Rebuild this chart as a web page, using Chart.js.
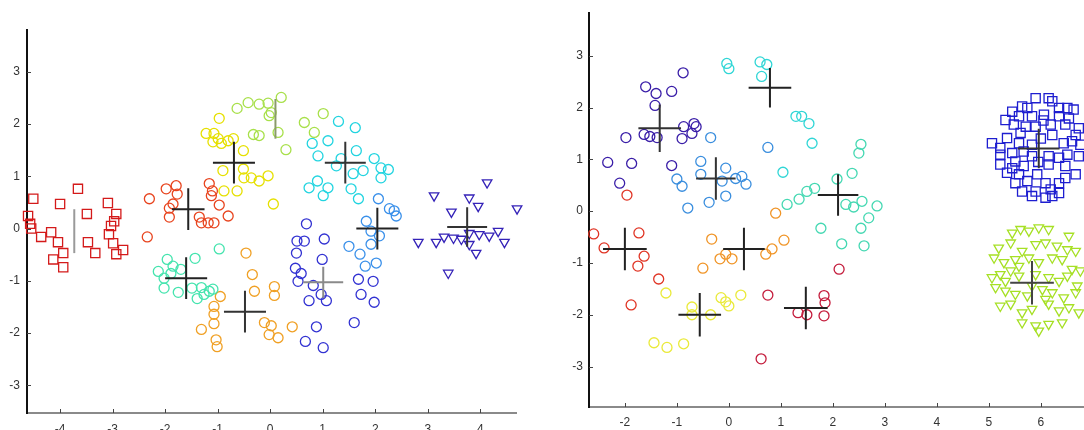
<!DOCTYPE html>
<html>
<head>
<meta charset="utf-8">
<script src="https://cdn.jsdelivr.net/npm/chart.js@4.4.1/dist/chart.umd.min.js"></script>
<style>
  html, body { margin: 0; padding: 0; background: #fff; overflow: hidden; width: 1084px; height: 430px; }
  #divChartLeft { position: absolute; left: 0; top: 0; width: 540px; height: 430px; }
  #divChartRight { position: absolute; left: 560px; top: 0; width: 524px; height: 430px; }
</style>
</head>
<body>
<div id="divChartLeft"><canvas id="chartLeft" width="540" height="430"></canvas></div>
<div id="divChartRight"><canvas id="chartRight" width="524" height="430"></canvas></div>
<script>
// ---- left panel data ----
var leftXTicks = [-4, -3, -2, -1, 0, 1, 2, 3, 4];
var leftYTicks = [-3, -2, -1, 0, 1, 2, 3];

var leftRedSquares = [[-4.51,0.57],[-3.66,0.76],[-4.0,0.47],[-3.49,0.28],[-3.09,0.49],[-2.93,0.28],[-4.61,0.24],[-4.57,0.09],
    [-4.55,0.0],[-4.36,-0.16],[-4.17,-0.07],[-4.04,-0.26],[-3.94,-0.47],[-4.13,-0.59],[-3.94,-0.74],[-3.47,-0.26],[-3.33,-0.47],
    [-3.03,0.05],[-3.07,-0.11],[-2.99,-0.28],[-2.93,-0.49],[-2.8,-0.41],[-2.97,0.14]];
var leftRedCircles = [[-2.30,0.57],[-1.98,0.76],[-1.79,0.82],[-1.77,0.66],[-1.85,0.47],[-1.92,0.39],[-1.92,0.22],[-1.16,0.86],
    [-1.10,0.72],[-1.12,0.63],[-0.97,0.45],[-0.80,0.24],[-1.35,0.22],[-1.31,0.11],[-1.18,0.11],[-1.07,0.11],[-2.34,-0.16]];
var leftYellow = [[-0.97,2.11],[-1.22,1.82],[-1.07,1.82],[-0.99,1.72],[-1.09,1.66],[-0.93,1.63],[-0.80,1.68],[-0.70,1.72],
    [-0.51,1.49],[-0.90,1.11],[-0.51,1.14],[-0.50,0.97],[-0.36,0.97],[-0.21,0.91],[-0.04,1.01],[-0.88,0.72],[-0.63,0.72],[0.06,0.47]];
var leftLime = [[-0.63,2.30],[-0.42,2.41],[-0.21,2.38],[-0.04,2.40],[0.21,2.51],[0.02,2.22],[-0.02,2.16],[0.15,1.84],
    [-0.32,1.80],[-0.21,1.78],[0.30,1.51],[0.65,2.03],[0.84,1.84],[1.01,2.20]];
var leftCyan = [[1.30,2.05],[1.62,1.93],[1.10,1.68],[0.80,1.63],[0.91,1.39],[1.64,1.49],[1.35,1.34],[1.26,1.20],[1.98,1.34],
    [2.11,1.16],[2.25,1.13],[1.77,1.11],[1.58,1.05],[0.90,0.91],[0.74,0.78],[1.10,0.78],[1.01,0.63],[1.54,0.76],[1.68,0.57],[2.11,0.97]];
var leftAzure = [[2.06,0.57],[2.27,0.38],[2.40,0.24],[1.83,0.14],[1.92,-0.05],[2.08,-0.14],[1.92,-0.30],[1.50,-0.34],
    [1.71,-0.49],[1.81,-0.72],[2.02,-0.66],[2.36,0.34]];
var leftBlue = [[0.69,0.09],[0.51,-0.24],[0.65,-0.24],[0.50,-0.47],[1.03,-0.20],[0.48,-0.76],[0.53,-1.01],[0.82,-1.09],
    [0.99,-0.59],[0.97,-1.26],[0.74,-1.38],[1.07,-1.38],[1.68,-0.97],[1.96,-1.01],[1.73,-1.26],[1.98,-1.41],[1.60,-1.80],
    [0.88,-1.88],[0.67,-2.16],[1.01,-2.28],[0.59,-0.86]];
var leftTriangles = [[4.13,0.88],[3.12,0.63],[3.79,0.59],[3.96,0.43],[3.45,0.32],[4.70,0.38],[2.82,-0.26],[3.16,-0.26],
    [3.31,-0.16],[3.49,-0.18],[3.79,-0.09],[3.98,-0.11],[4.17,-0.14],[4.34,-0.05],[4.46,-0.26],[3.79,-0.30],[3.92,-0.47],
    [3.39,-0.85],[3.64,-0.20]];
var leftTeal = [[-0.97,-0.39],[-1.43,-0.57],[-1.96,-0.59],[-1.85,-0.72],[-2.13,-0.82],[-1.70,-0.78],[-2.02,-0.95],[-2.02,-1.14],
    [-1.75,-1.22],[-1.49,-1.14],[-1.31,-1.13],[-1.16,-1.20],[-1.09,-1.16],[-1.39,-1.34],[-1.26,-1.26],[-1.89,-0.86]];
var leftOrange = [[-0.46,-0.47],[-0.34,-0.88],[-0.30,-1.20],[0.08,-1.11],[0.08,-1.28],[-0.95,-1.30],[-1.07,-1.49],[-1.07,-1.64],
    [-1.07,-1.82],[-1.31,-1.93],[-1.03,-2.13],[-1.01,-2.26],[-0.11,-1.80],[0.02,-1.86],[-0.02,-2.03],[0.15,-2.09],[0.42,-1.88]];

// cluster centres and spreads (left)
var leftCentX = [-3.73, -1.56, -0.69, 0.10, 1.43, 2.04, 1.01, 3.75, -1.60, -0.48];
var leftCentY = [-0.05, 0.37, 1.26, 2.10, 1.26, 0.00, -1.03, 0.03, -0.95, -1.59];
var leftSpreadX = [0.00, 0.31, 0.40, 0.00, 0.39, 0.40, 0.38, 0.38, 0.40, 0.40];
var leftSpreadY = [0.42, 0.40, 0.40, 0.38, 0.40, 0.40, 0.30, 0.38, 0.40, 0.40];

// ---- right panel data ----
var rightXTicks = [-2, -1, 0, 1, 2, 3, 4, 5, 6];
var rightYTicks = [-3, -2, -1, 0, 1, 2, 3];

var rightNavy = [[-0.88,2.67],[-1.60,2.40],[-1.40,2.27],[-1.10,2.31],[-1.42,2.04],[-1.98,1.42],[-1.63,1.48],[-1.52,1.44],
    [-1.38,1.42],[-0.90,1.40],[-0.87,1.63],[-0.67,1.69],[-0.63,1.63],[-0.71,1.50],[-2.33,0.94],[-1.87,0.92],[-1.10,0.88],[-2.10,0.54]];
var rightAzure = [[-0.35,1.42],[-0.54,0.96],[-0.06,0.83],[-0.54,0.71],[-1.00,0.62],[-0.90,0.48],[-0.13,0.58],[0.13,0.63],
    [0.25,0.67],[0.33,0.52],[-0.06,0.29],[-0.38,0.17],[-0.79,0.06],[0.75,1.23]];
var rightCyan = [[-0.04,2.85],[0.0,2.75],[0.60,2.88],[0.73,2.83],[0.63,2.60],[1.29,1.83],[1.40,1.83],[1.54,1.69],[1.60,1.31],[1.04,0.75]];
var rightTeal = [[1.12,0.13],[1.35,0.23],[1.50,0.38],[1.65,0.44],[2.54,1.29],[2.50,1.12],[2.08,0.62],[2.37,0.73],[2.25,0.13],
    [2.40,0.08],[2.56,0.19],[2.85,0.10],[1.77,-0.33],[2.54,-0.33],[2.69,-0.13],[2.17,-0.63],[2.60,-0.67]];
var rightRed = [[-2.60,-0.44],[-2.40,-0.71],[-1.73,-0.42],[-1.63,-0.87],[-1.75,-1.06],[-1.35,-1.31],[-1.88,-1.81],[-1.96,0.31]];
var rightOrange = [[-0.33,-0.54],[-0.50,-1.10],[-0.17,-0.92],[-0.06,-0.83],[0.06,-0.92],[0.71,-0.83],[0.83,-0.73],[1.06,-0.56],[0.90,-0.04]];
var rightYellow = [[-1.21,-1.58],[-0.71,-1.85],[-0.71,-2.0],[-0.35,-2.0],[-0.15,-1.67],[-0.06,-1.75],[0.0,-1.83],[0.23,-1.62],
    [-1.44,-2.54],[-1.19,-2.63],[-0.87,-2.56]];
var rightCrimson = [[0.75,-1.62],[1.33,-1.96],[1.50,-2.0],[1.83,-1.63],[1.85,-1.77],[1.83,-2.02],[2.12,-1.12],[0.62,-2.85]];
var rightSquares = [[5.90,2.18],[6.15,2.18],[5.64,2.02],[5.45,1.92],[5.74,1.99],[6.22,2.12],[6.35,1.99],[6.51,1.99],[6.63,1.96],
    [5.32,1.76],[5.58,1.83],[5.83,1.83],[6.06,1.86],[6.35,1.83],[6.54,1.79],[6.73,1.60],[5.48,1.67],[5.71,1.63],[5.90,1.63],
    [6.19,1.67],[6.47,1.67],[6.67,1.47],[5.61,1.51],[5.06,1.31],[5.22,1.22],[5.35,1.41],[5.58,1.31],[5.83,1.28],[6.22,1.47],
    [6.44,1.31],[6.60,1.35],[6.76,1.28],[5.22,1.09],[5.45,1.12],[5.67,1.15],[5.51,0.96],[5.83,1.06],[6.15,1.06],[6.35,1.03],
    [6.51,1.09],[6.73,1.06],[5.22,0.90],[5.45,0.83],[5.67,0.87],[6.15,0.90],[6.47,0.87],[6.67,0.71],[5.35,0.74],[5.58,0.71],
    [5.93,0.71],[6.47,0.64],[5.51,0.54],[5.74,0.58],[6.09,0.54],[6.35,0.54],[5.64,0.38],[5.90,0.38],[6.19,0.42],[6.35,0.35],
    [5.83,0.29],[6.09,0.26],[6.22,0.29],[6.00,1.40],[5.95,0.95],[6.05,1.75]];
var rightTriangles = [[5.45,-0.42],[5.61,-0.35],[5.77,-0.38],[5.96,-0.32],[6.15,-0.35],[5.19,-0.71],[5.42,-0.61],[5.64,-0.77],
    [5.90,-0.64],[6.09,-0.61],[6.31,-0.67],[6.51,-0.74],[6.67,-0.77],[5.10,-0.90],[5.29,-0.99],[5.51,-0.93],[5.77,-0.90],
    [5.96,-0.99],[6.22,-0.90],[6.41,-0.93],[6.60,-1.12],[6.76,-1.15],[5.06,-1.28],[5.22,-1.22],[5.42,-1.15],[5.58,-1.25],
    [5.90,-1.22],[6.15,-1.28],[6.35,-1.35],[6.51,-1.25],[6.70,-1.44],[5.13,-1.47],[5.32,-1.54],[5.51,-1.60],[5.74,-1.63],
    [6.03,-1.51],[6.22,-1.57],[6.44,-1.67],[6.67,-1.57],[5.22,-1.83],[5.42,-1.79],[5.64,-1.96],[5.83,-1.89],[6.15,-1.79],
    [6.35,-1.92],[6.54,-1.86],[6.73,-1.96],[5.64,-2.15],[5.90,-2.21],[6.15,-2.18],[6.41,-2.15],[5.96,-2.31],[5.58,-1.06],
    [5.32,-1.35],[5.83,-1.44],[6.09,-1.70],[6.54,-0.48]];

// cluster centres and spreads (right)
var rightCentX = [-1.33, -0.25, 0.79, 2.10, 5.96, -2.00, 0.29, -0.56, 1.48, 5.83];
var rightCentY = [1.60, 0.63, 2.38, 0.31, 1.21, -0.73, -0.73, -2.00, -1.87, -1.38];
var rightSpreadX = [0.41, 0.38, 0.41, 0.39, 0.40, 0.42, 0.40, 0.41, 0.42, 0.42];
var rightSpreadY = [0.46, 0.41, 0.38, 0.40, 0.38, 0.41, 0.41, 0.42, 0.41, 0.42];

// ---- helpers ----
var labelFont = { family: "'Liberation Sans', Arial, sans-serif", size: 12 };

function toPoints(arr) {
    return arr.map(function(p) { return { x: p[0], y: p[1] }; });
}

function markerSet(arr, color, style) {
    var ds = {
        data: toPoints(arr),
        borderColor: color,
        backgroundColor: 'rgba(0,0,0,0)',
        borderWidth: 1.3,
        pointStyle: style || 'circle',
        pointRadius: 5,
        clip: false
    };
    if (style === 'rect') ds.pointRadius = 6.5;
    if (style === 'triangle') { ds.pointRadius = 5.5; ds.rotation = 180; }
    return ds;
}

function crossSets(cx, cy, sx, sy, colors) {
    var sets = [];
    for (var i = 0; i < cx.length; i++) {
        sets.push({
            data: [
                { x: cx[i], y: cy[i] - sy[i] }, { x: cx[i], y: cy[i] + sy[i] },
                { x: cx[i], y: null },
                { x: cx[i] - sx[i], y: cy[i] }, { x: cx[i] + sx[i], y: cy[i] }
            ],
            showLine: true,
            spanGaps: false,
            borderColor: colors[i],
            borderWidth: 2,
            pointRadius: 0,
            clip: false
        });
    }
    return sets;
}

// small tick marks drawn inside the plot area
var innerTicks = {
    id: 'innerTicks',
    afterDraw: function(chart) {
        var ctx = chart.ctx, a = chart.chartArea;
        var sx = chart.scales.x, sy = chart.scales.y;
        ctx.save();
        ctx.strokeStyle = '#444';
        ctx.lineWidth = 1;
        sx.ticks.forEach(function(t) {
            var px = Math.round(sx.getPixelForValue(t.value)) + 0.5;
            ctx.beginPath(); ctx.moveTo(px, a.bottom); ctx.lineTo(px, a.bottom - 4); ctx.stroke();
        });
        sy.ticks.forEach(function(t) {
            var py = Math.round(sy.getPixelForValue(t.value)) + 0.5;
            ctx.beginPath(); ctx.moveTo(a.left, py); ctx.lineTo(a.left + 4, py); ctx.stroke();
        });
        ctx.restore();
    }
};

function axisOptions(cfg) {
    return {
        x: {
            type: 'linear',
            min: cfg.xmin, max: cfg.xmax,
            grid: { display: false, tickLength: 0 },
            border: { display: true, color: '#8a8a8a', width: 2 },
            ticks: { color: '#333', font: labelFont, padding: cfg.xpad },
            afterBuildTicks: function(s) { s.ticks = cfg.xticks.map(function(v) { return { value: v }; }); },
            afterFit: function(s) { s.height = cfg.xh; }
        },
        y: {
            type: 'linear',
            min: cfg.ymin, max: cfg.ymax,
            grid: { display: false, tickLength: 0 },
            border: { display: true, color: '#111', width: 2 },
            ticks: { color: '#333', font: labelFont, padding: cfg.ypad },
            afterBuildTicks: function(s) { s.ticks = cfg.yticks.map(function(v) { return { value: v }; }); },
            afterFit: function(s) { s.width = cfg.yw; }
        }
    };
}

function drawLeftChart() {
    var crossColors = ['#9a9a9a', '#222', '#222', '#8a9a6a', '#333', '#222', '#8a8a8a', '#333', '#222', '#333'];
    var datasets = crossSets(leftCentX, leftCentY, leftSpreadX, leftSpreadY, crossColors).concat([
        markerSet(leftRedSquares, '#d41a1a', 'rect'),
        markerSet(leftRedCircles, '#e8441e'),
        markerSet(leftYellow, '#e6e000'),
        markerSet(leftLime, '#a8e04a'),
        markerSet(leftCyan, '#22d4e0'),
        markerSet(leftAzure, '#3a90ea'),
        markerSet(leftBlue, '#3232d2'),
        markerSet(leftTriangles, '#3422b8', 'triangle'),
        markerSet(leftTeal, '#44e4ae'),
        markerSet(leftOrange, '#f0a024')
    ]);

    var ctx = document.getElementById('chartLeft');
    var myScatterLeft = new Chart(ctx, {
        type: 'scatter',
        data: { datasets: datasets },
        options: {
            responsive: false,
            animation: false,
            layout: { autoPadding: false, padding: { top: 30, right: 24, bottom: 0, left: 0 } },
            plugins: { legend: { display: false }, tooltip: { enabled: false } },
            scales: axisOptions({
                xmin: -4.63, xmax: 4.68, ymin: -3.53, ymax: 3.80,
                xticks: leftXTicks, yticks: leftYTicks,
                xpad: 9, ypad: 7, xh: 17, yw: 27
            })
        },
        plugins: [innerTicks]
    });
}

function drawRightChart() {
    var crossColors = ['#333', '#333', '#222', '#222', '#333', '#222', '#222', '#222', '#222', '#444'];
    var datasets = crossSets(rightCentX, rightCentY, rightSpreadX, rightSpreadY, crossColors).concat([
        markerSet(rightNavy, '#3a1ea8'),
        markerSet(rightAzure, '#3a8ede'),
        markerSet(rightCyan, '#30d6d6'),
        markerSet(rightTeal, '#44d8b2'),
        markerSet(rightRed, '#e03424'),
        markerSet(rightOrange, '#f09426'),
        markerSet(rightYellow, '#eaea3a'),
        markerSet(rightCrimson, '#c41c3c'),
        markerSet(rightSquares, '#1e1ed0', 'rect'),
        markerSet(rightTriangles, '#a6e024', 'triangle')
    ]);

    var ctx = document.getElementById('chartRight');
    var myScatterRight = new Chart(ctx, {
        type: 'scatter',
        data: { datasets: datasets },
        options: {
            responsive: false,
            animation: false,
            layout: { autoPadding: false, padding: { top: 13, right: 0, bottom: 0, left: 0 } },
            plugins: { legend: { display: false }, tooltip: { enabled: false } },
            scales: axisOptions({
                xmin: -2.69, xmax: 6.83, ymin: -3.78, ymax: 3.82,
                xticks: rightXTicks, yticks: rightYTicks,
                xpad: 8, ypad: 6, xh: 23, yw: 29
            })
        },
        plugins: [innerTicks]
    });
}

drawLeftChart();
drawRightChart();
</script>
</body>
</html>
